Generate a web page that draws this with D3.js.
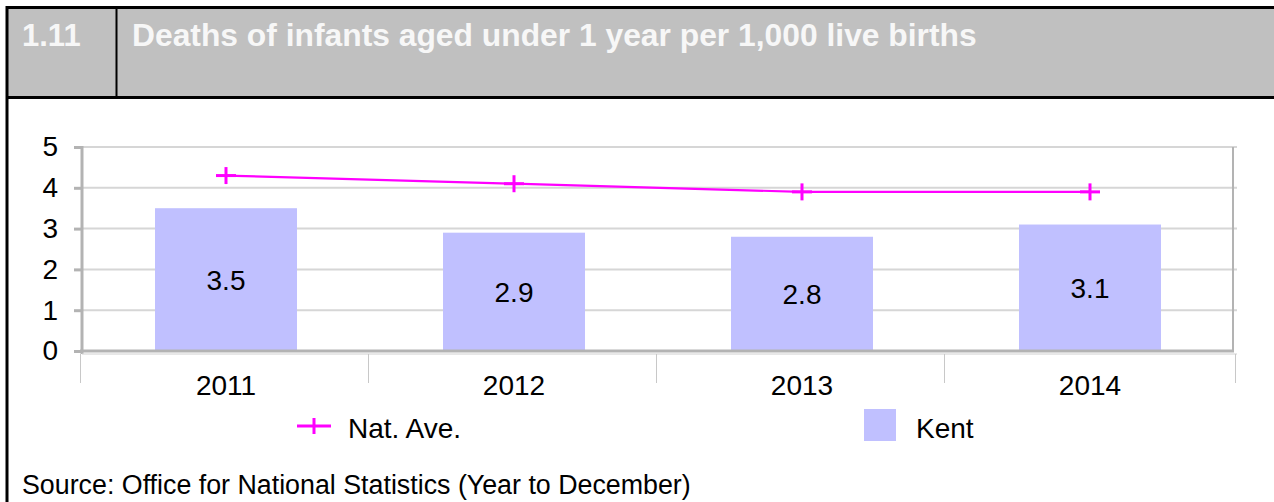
<!doctype html>
<html>
<head>
  <meta charset="utf-8" />
  <script src="https://cdnjs.cloudflare.com/ajax/libs/d3/7.8.5/d3.min.js"></script>
  <style>
  body{
    margin: 0;
    overflow: hidden;
    background: #ffffff;
    font-family: Arial, "Liberation Sans", sans-serif;
  }
  </style>
</head>
<body>
  <div id="chart"></div>
  <script>
  // data
  var years = ['2011', '2012', '2013', '2014'];
  var kent = [3.5, 2.9, 2.8, 3.1];
  var natAve = [4.3, 4.1, 3.9, 3.9];
  var yTicks = [0, 1, 2, 3, 4, 5];

  var width = 1274, height = 502;
  var plot = {left: 82, right: 1234, top: 147, bottom: 351};
  var fs = '28px';

  var svg = d3.select('#chart').append('svg')
    .attr('width', width)
    .attr('height', height);

  // header block
  svg.append('rect')
    .attr('x', 7).attr('y', 7)
    .attr('width', width - 7).attr('height', 90)
    .attr('fill', '#c0c0c0');
  svg.append('line')
    .attr('x1', 6).attr('x2', width).attr('y1', 7.5).attr('y2', 7.5)
    .attr('stroke', '#000').attr('stroke-width', 3);
  svg.append('line')
    .attr('x1', 6).attr('x2', width).attr('y1', 97.5).attr('y2', 97.5)
    .attr('stroke', '#000').attr('stroke-width', 3);
  svg.append('line')
    .attr('x1', 7).attr('x2', 7).attr('y1', 6).attr('y2', height)
    .attr('stroke', '#000').attr('stroke-width', 3);
  svg.append('line')
    .attr('x1', 116.5).attr('x2', 116.5).attr('y1', 7).attr('y2', 97)
    .attr('stroke', '#000').attr('stroke-width', 2);

  svg.append('text')
    .attr('x', 22).attr('y', 46)
    .attr('fill', '#f7f7f7')
    .style('font-weight', 'bold').style('font-size', '31px')
    .text('1.11');
  svg.append('text')
    .attr('x', 132).attr('y', 46)
    .attr('fill', '#f7f7f7')
    .style('font-weight', 'bold').style('font-size', '31.8px')
    .text('Deaths of infants aged under 1 year per 1,000 live births');

  // scales
  var y = d3.scaleLinear().domain([0, 5]).range([plot.bottom, plot.top]);
  var xCat = d3.scaleBand().domain(years).range([plot.left, plot.right]);
  var xBar = d3.scaleBand().domain(years).range([plot.left, plot.right])
    .paddingInner(0.507).paddingOuter(0.2535);

  // gridlines
  svg.append('g').selectAll('line')
    .data(yTicks.slice(1))
    .enter().append('line')
    .attr('x1', plot.left).attr('x2', plot.right + 3)
    .attr('y1', function(d){ return y(d); })
    .attr('y2', function(d){ return y(d); })
    .attr('stroke', '#d6d6d6').attr('stroke-width', 2);

  // plot frame right side
  svg.append('line')
    .attr('x1', plot.right - 1).attr('x2', plot.right - 1)
    .attr('y1', plot.top).attr('y2', plot.bottom)
    .attr('stroke', '#b3b3b3').attr('stroke-width', 2);

  // bars
  svg.append('g').selectAll('rect')
    .data(kent)
    .enter().append('rect')
    .attr('x', function(d, i){ return xBar(years[i]); })
    .attr('width', xBar.bandwidth())
    .attr('y', function(d){ return y(d); })
    .attr('height', function(d){ return y(0) - y(d); })
    .attr('fill', '#c0c0ff');

  svg.append('g').selectAll('text')
    .data(kent)
    .enter().append('text')
    .attr('x', function(d, i){ return xBar(years[i]) + xBar.bandwidth() / 2; })
    .attr('y', function(d){ return (y(d) + y(0)) / 2 + 10; })
    .attr('text-anchor', 'middle')
    .style('font-size', fs)
    .attr('fill', '#000')
    .text(function(d){ return d.toFixed(1); });

  // y axis
  var yAxis = d3.axisLeft(y).tickValues(yTicks).tickSize(8).tickPadding(16)
    .tickFormat(d3.format('d'));
  var gy = svg.append('g')
    .attr('transform', 'translate(' + plot.left + ',0)')
    .call(yAxis);
  gy.select('.domain').remove();
  gy.selectAll('.tick line').attr('stroke', '#b3b3b3').attr('stroke-width', 3);
  gy.selectAll('.tick text')
    .style('font-size', fs)
    .style('font-family', 'Arial, "Liberation Sans", sans-serif')
    .attr('fill', '#000');
  svg.append('line')
    .attr('x1', plot.left).attr('x2', plot.left)
    .attr('y1', plot.top - 1).attr('y2', plot.bottom + 3)
    .attr('stroke', '#b3b3b3').attr('stroke-width', 3);
  svg.append('line')
    .attr('x1', plot.left - 2).attr('x2', plot.right)
    .attr('y1', plot.bottom).attr('y2', plot.bottom)
    .attr('stroke', '#b3b3b3').attr('stroke-width', 3);
  svg.append('line')
    .attr('x1', plot.left).attr('x2', plot.right + 3)
    .attr('y1', plot.bottom + 3).attr('y2', plot.bottom + 3)
    .attr('stroke', '#d0d0d0').attr('stroke-width', 1);

  // category axis
  var bounds = years.map(function(d){ return xCat(d); }).concat([plot.right + 3]);
  svg.append('g').selectAll('line')
    .data(bounds)
    .enter().append('line')
    .attr('x1', function(d){ return Math.round(d) - 1.5; })
    .attr('x2', function(d){ return Math.round(d) - 1.5; })
    .attr('y1', plot.bottom + 3).attr('y2', 383)
    .attr('stroke', '#c8c8c8').attr('stroke-width', 1);
  svg.append('g').selectAll('text')
    .data(years)
    .enter().append('text')
    .attr('x', function(d){ return xCat(d) + xCat.bandwidth() / 2; })
    .attr('y', 395)
    .attr('text-anchor', 'middle')
    .style('font-size', fs)
    .attr('fill', '#000')
    .text(function(d){ return d; });

  // national average line
  var line = d3.line()
    .x(function(d, i){ return xCat(years[i]) + xCat.bandwidth() / 2; })
    .y(function(d){ return y(d); });
  svg.append('path')
    .datum(natAve)
    .attr('d', line)
    .attr('fill', 'none')
    .attr('stroke', '#ff00ff')
    .attr('stroke-width', 2.2);

  function plus(g, cx, cy, w, h){
    g.append('line')
      .attr('x1', cx - w / 2).attr('x2', cx + w / 2).attr('y1', cy).attr('y2', cy)
      .attr('stroke', '#ff00ff').attr('stroke-width', 3);
    g.append('line')
      .attr('x1', cx).attr('x2', cx).attr('y1', cy - h / 2).attr('y2', cy + h / 2)
      .attr('stroke', '#ff00ff').attr('stroke-width', 3);
  }
  var markers = svg.append('g');
  natAve.forEach(function(d, i){
    plus(markers, xCat(years[i]) + xCat.bandwidth() / 2, y(d), 20, 17);
  });

  // legend
  var legend = svg.append('g');
  legend.append('line')
    .attr('x1', 297).attr('x2', 331).attr('y1', 426).attr('y2', 426)
    .attr('stroke', '#ff00ff').attr('stroke-width', 3);
  plus(legend, 314, 426, 0, 16);
  legend.append('text')
    .attr('x', 348).attr('y', 438)
    .style('font-size', fs)
    .text('Nat. Ave.');
  legend.append('rect')
    .attr('x', 864).attr('y', 409).attr('width', 32).attr('height', 32)
    .attr('fill', '#c0c0ff');
  legend.append('text')
    .attr('x', 916).attr('y', 438)
    .style('font-size', fs)
    .text('Kent');

  // source
  svg.append('text')
    .attr('x', 22).attr('y', 494)
    .style('font-size', '26.8px')
    .text('Source: Office for National Statistics (Year to December)');
  </script>
</body>
</html>
